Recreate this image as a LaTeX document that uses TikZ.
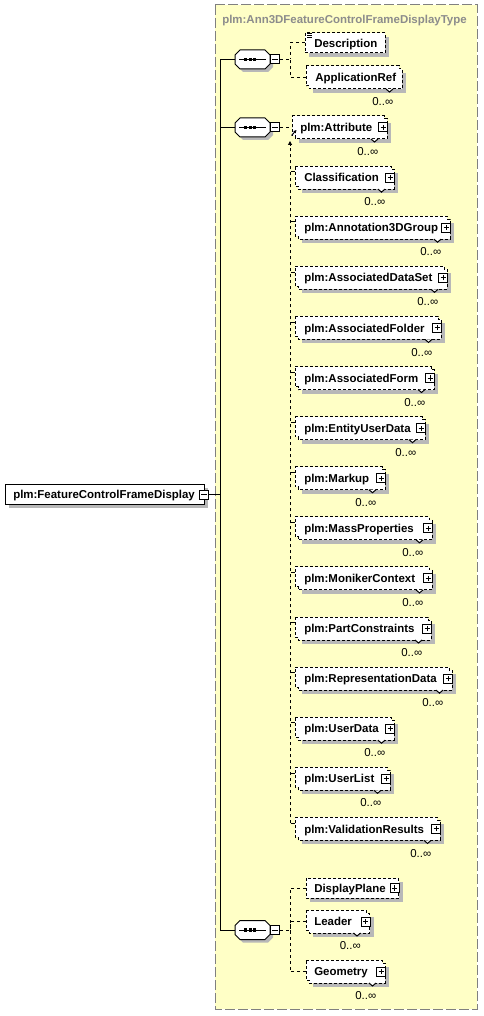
\documentclass[tikz,border=0pt]{standalone}
\usepackage{fontspec}
\setmainfont{Liberation Sans}
\usetikzlibrary{arrows.meta}
\definecolor{bgyellow}{RGB}{255,255,198}
\definecolor{bordergray}{RGB}{128,128,128}
\definecolor{shadowgray}{RGB}{184,184,184}
\definecolor{titlegray}{RGB}{140,140,140}
\tikzset{
  px/.style={line width=0.75pt},
  trunk/.style={line width=0.75pt},
  conn/.style={line width=0.75pt, dash pattern=on 2.25pt off 2.25pt},
  edash/.style={line width=0.75pt, dash pattern=on 2.25pt off 1.5pt},
  etext/.style={font=\fontsize{8.6pt}{10pt}\selectfont\bfseries, inner sep=0pt, text height=6.2pt, text depth=0pt, anchor=west},
  mtext/.style={font=\fontsize{8.6pt}{10pt}\selectfont, inner sep=0pt, text height=6.2pt, text depth=0pt, anchor=east},
  ttext/.style={font=\fontsize{8.6pt}{10pt}\selectfont\bfseries, text=titlegray, inner sep=0pt, text height=6.2pt, text depth=0pt, anchor=west},
  anch/.style={inner sep=0pt, anchor=west},
  sqbox/.style={draw, fill=white, line width=0.75pt, minimum size=6.75pt, inner sep=0pt},
  minusbox/.style={sqbox, path picture={\draw[line width=0.75pt] ([xshift=-1.9pt]path picture bounding box.center) -- ([xshift=1.9pt]path picture bounding box.center);}},
  plusbox/.style={sqbox, path picture={\draw[line width=0.75pt] ([xshift=-1.9pt]path picture bounding box.center) -- ([xshift=1.9pt]path picture bounding box.center) ([yshift=-1.9pt]path picture bounding box.center) -- ([yshift=1.9pt]path picture bounding box.center);}},
}
% single element: name, L, R, yc, text, text x
\newcommand\elS[6]{%
  \fill[shadowgray] (#2+4,#4-6) rectangle (#3+4,#4+14);
  \filldraw[fill=white, edash] (#2,#4-10) rectangle (#3,#4+10);
  \node[anch, minimum width={(#3-#2)*0.75pt}, minimum height=15pt] (#1) at (#2,#4) {};
  \node[etext] (#1-t) at (#6,#4) {#5};
}
% repeated element: name, L, R, yc, text, text x
\newcommand\elM[6]{%
  \fill[shadowgray] (#2+7,#4-4.5) rectangle (#3+4,#4+15.5);
  \fill[white] (#2,#4-11.5) rectangle (#3-3,#4+8.5);
  \fill[white] (#2+3,#4-8.5) rectangle (#3,#4+11.5);
  \draw[edash] (#2,#4-11.5) -- (#3-3,#4-11.5) -- (#3-3,#4-8.5) -- (#3,#4-8.5) -- (#3,#4+11.5) -- (#2+3,#4+11.5) -- (#2+3,#4+8.5) -- (#2,#4+8.5) -- cycle;
  \filldraw[fill=white, px] (#3-16,#4+11.5) -- (#3-12.5,#4+14.5) -- (#3-9,#4+11.5);
  \node[anch, minimum width={(#3-#2)*0.75pt}, minimum height=17.25pt] (#1) at (#2,#4) {};
  \node[etext] (#1-t) at (#6,#4) {#5};
  \node[mtext] (#1-m) at (#3-8.5,#4+24) {0..∞};
}
\newcommand\pluson[1]{\node[plusbox] (#1-p) at ([xshift=-3.375pt]#1.east) {};}
% sequence compositor: name, yc
\newcommand\seqsym[2]{%
  \fill[shadowgray] (243,#2-6.5) -- (268,#2-6.5) -- (273,#2-1.5) -- (273,#2+7.5) -- (268,#2+12.5) -- (243,#2+12.5) -- (238,#2+7.5) -- (238,#2-1.5) -- cycle;
  \filldraw[fill=white, px] (240,#2-9.5) -- (265,#2-9.5) -- (270,#2-4.5) -- (270,#2+4.5) -- (265,#2+9.5) -- (240,#2+9.5) -- (235,#2+4.5) -- (235,#2-4.5) -- cycle;
  \draw[px] (239,#2) -- (266,#2);
  \fill (244,#2-1.6) rectangle (247,#2+1.6);
  \fill (248.5,#2-1.6) rectangle (251.5,#2+1.6);
  \fill (253,#2-1.6) rectangle (256,#2+1.6);
  \node[anch, minimum width=26.25pt, minimum height=14.25pt] (#1) at (235,#2) {};
  \node[minusbox] (#1-m) at (275,#2) {};
}
\begin{document}
\begin{tikzpicture}[x=0.75pt, y=-0.75pt]
\useasboundingbox (0,0) rectangle (483,1016);
\fill[white] (0,0) rectangle (483,1016);
\filldraw[fill=bgyellow, draw=bordergray, line width=0.75pt, dash pattern=on 7.5pt off 2.25pt] (215,5) rectangle (477,1009);
\node[ttext] (title) at (222,19) {plm:Ann3DFeatureControlFrameDisplayType};

% root element
\fill[shadowgray] (9,488) rectangle (208,508);
\filldraw[fill=white, px] (5,484) rectangle (204,504);
\node[anch, minimum width=149.25pt, minimum height=15pt] (root) at (5,494) {};
\node[etext] (root-t) at (13,494.5) {plm:FeatureControlFrameDisplay};
\node[minusbox] (root-mb) at (204,494.5) {};

% compositors
\seqsym{seq1}{59.5}
\seqsym{seq2}{127.5}
\seqsym{seq3}{930}

% first sequence
\elS{desc}{305}{385}{43}{Description}{314}
\draw[px] (307,34) -- (312,34) (307,36) -- (312,36) (307,38) -- (312,38);
\elM{appref}{306}{402}{77.5}{ApplicationRef}{315}

% second sequence
\elM{attr}{292}{387}{127.5}{plm:Attribute}{300}
\elM{class}{295}{394}{177.6}{Classification}{304}
\elM{annot}{295}{450}{227.7}{plm:Annotation3DGroup}{304}
\elM{adset}{295}{447}{277.8}{plm:AssociatedDataSet}{304}
\elM{afold}{295}{441}{327.9}{plm:AssociatedFolder}{304}
\elM{aform}{295}{434}{378}{plm:AssociatedForm}{304}
\elM{eud}{295}{425}{428.1}{plm:EntityUserData}{304}
\elM{markup}{295}{385}{478.2}{plm:Markup}{304}
\elM{mass}{295}{432}{528.3}{plm:MassProperties}{304}
\elM{moniker}{295}{432}{578.4}{plm:MonikerContext}{304}
\elM{partc}{295}{431}{628.5}{plm:PartConstraints}{304}
\elM{repdata}{295}{452}{678.6}{plm:RepresentationData}{304}
\elM{udata}{295}{394}{728.7}{plm:UserData}{304}
\elM{ulist}{295}{390}{778.8}{plm:UserList}{304}
\elM{valid}{295}{440}{828.9}{plm:ValidationResults}{304}

% third sequence
\elS{dplane}{306}{398.5}{888}{DisplayPlane}{314}
\elM{leader}{306}{369.5}{921.5}{Leader}{314}
\elM{geom}{306}{385}{971.5}{Geometry}{314}

\foreach \n in {attr,class,annot,adset,afold,aform,eud,markup,mass,moniker,partc,repdata,udata,ulist,valid,dplane,leader,geom}{\pluson{\n}}

% connectors
\coordinate (J) at (220,494.5);
\coordinate (s1v) at (290,59.5);
\coordinate (s3v) at (290,930);
\coordinate (s2top) at (290,141);
\coordinate (s2bot) at (290,823.4);
\coordinate (d1) at (291.5,135.5);
\coordinate (d2) at (296.5,130);
\draw[trunk] (root-mb.east) -- (J);
\draw[trunk] (seq1.west) -| (J);
\draw[trunk] (seq2.west) -| (J);
\draw[trunk] (seq3.west) -| (J);
\draw[conn] (seq1-m.east) -- (s1v);
\draw[conn] (desc.west) -| (s1v);
\draw[conn] (appref.west) -| (s1v);
\draw[conn] (seq3-m.east) -- (s3v);
\draw[conn] (dplane.west) -| (s3v);
\draw[conn] (leader.west) -| (s3v);
\draw[conn] (geom.west) -| (s3v);
\draw[conn] (seq2-m.east) -- (attr.west);
\draw[conn, -{Triangle[length=3pt, width=3pt]}] (s2bot) -- (s2top);
\draw[px, -{Triangle[length=2.25pt, width=2.25pt]}] (d1) -- (d2);
\foreach \n in {class,annot,adset,afold,aform,eud,markup,mass,moniker,partc,repdata,udata,ulist,valid}{\draw[px] ([yshift=-4.5pt]\n.north west) -- ++(-4,0);}
\end{tikzpicture}
\end{document}
